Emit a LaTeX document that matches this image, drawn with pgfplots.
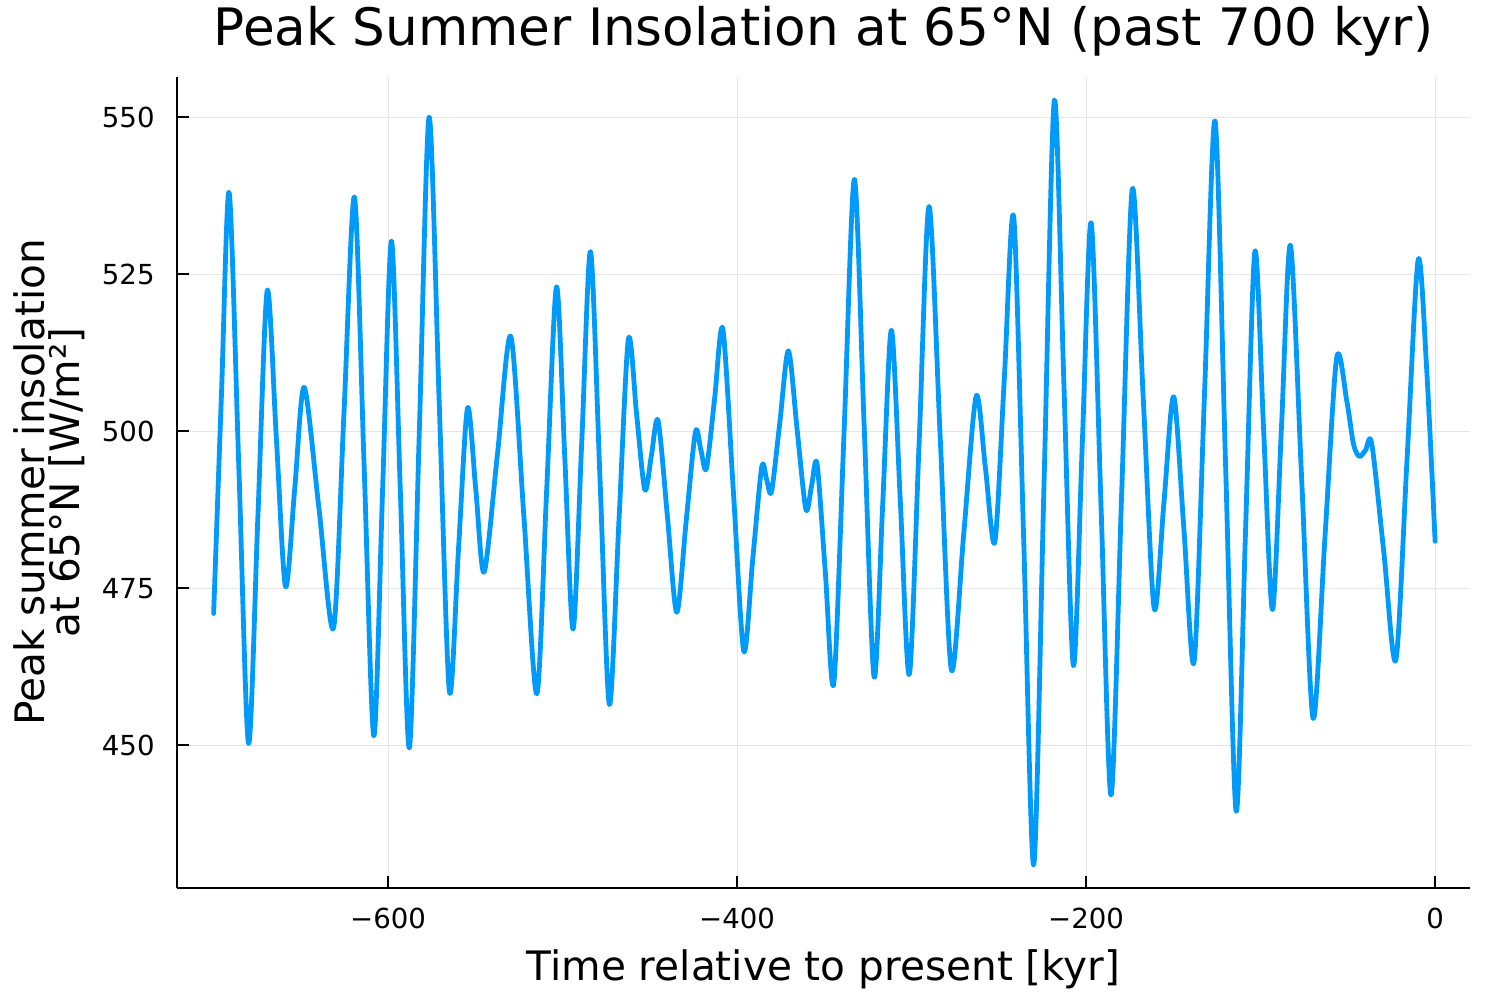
\documentclass[border=0pt]{standalone}
\usepackage{fontspec}
\setmainfont{DejaVu Sans}
\usepackage{pgfplots}
\pgfplotsset{compat=1.18}
\definecolor{plotblue}{RGB}{0,154,250}
\definecolor{gridgray}{RGB}{229,229,229}
\begin{document}
\begin{tikzpicture}
\path[use as bounding box] (-88.5pt,-56pt) rectangle (661.5pt,444pt);
\begin{axis}[
  scale only axis,
  width=646.5pt, height=405.5pt,
  xmin=-721, xmax=20, ymin=427.3, ymax=556.4,
  axis x line=bottom, axis y line=left,
  axis line style={-, line width=1pt, black},
  tick align=inside,
  major tick length=6pt,
  tick style={line width=1pt, black},
  xtick={-600,-400,-200,0},
  xticklabels={−600,−400,−200,0},
  ytick={450,475,500,525,550},
  yticklabels={450,475,500,525,550},
  xticklabel style={anchor=base, inner sep=0pt, yshift=-20.5pt, font=\fontsize{13.8}{16}\selectfont},
  yticklabel style={anchor=east, inner sep=0pt, xshift=-11pt, font=\fontsize{13.8}{16}\selectfont},
  grid=major,
  major grid style={line width=0.5pt, gridgray},
  title={Peak Summer Insolation at 65°N (past 700 kyr)},
  title style={at={(axis description cs:0.5,1)}, anchor=base, inner sep=0pt, yshift=9.7pt, font=\fontsize{25.8}{30}\selectfont},
  xlabel={Time relative to present [kyr]},
  xlabel style={at={(axis description cs:0.5,0)}, anchor=base, inner sep=0pt, yshift=-46.35pt, font=\fontsize{20.3}{24}\selectfont},
]
\addplot[plotblue, line width=2.4pt, smooth, no marks, line join=round, line cap=round] coordinates {
(-700,471.0) (-695.5,506.0) (-691.1,538.0) (-685.55,494.15) (-680.0,450.3)
(-674.65,486.35) (-669.3,522.4) (-664.05,498.85) (-658.8,475.3) (-653.45,491.15)
(-648.1,507.0) (-639.7,487.85) (-631.3,468.7) (-625.3,503.0) (-619.3,537.3)
(-613.75,494.4) (-608.2,451.5) (-603.15,490.9) (-598.1,530.3) (-592.95,489.95)
(-587.8,449.6) (-582.15,499.8) (-576.5,550.0) (-570.7,504.3) (-564.9,458.6)
(-559.7,481.15) (-554.5,503.7) (-549.75,490.65) (-545.0,477.6) (-537.35,496.35)
(-529.7,515.1) (-522.25,486.65) (-514.8,458.2) (-509.15,490.6) (-503.5,523.0)
(-498.75,495.75) (-494.0,468.5) (-489.0,498.55) (-484.0,528.6) (-478.6,492.55)
(-473.2,456.5) (-467.75,485.6) (-462.3,514.7) (-457.6,502.7) (-452.9,490.7)
(-449.1,496.2) (-445.3,501.7) (-439.95,486.45) (-434.6,471.2) (-429.25,485.55)
(-423.9,499.9) (-420.75,497.0) (-417.6,494.1) (-412.9,505.2) (-408.2,516.3)
(-402.2,490.65) (-396.2,465.0) (-391.05,479.65) (-385.9,494.3) (-383.1,492.35)
(-380.3,490.4) (-375.45,501.6) (-370.6,512.8) (-365.6,500.2) (-360.6,487.6)
(-357.4,491.2) (-354.2,494.8) (-349.4,477.35) (-344.6,459.9) (-338.7,500.0)
(-332.8,540.1) (-327.15,500.5) (-321.5,460.9) (-316.55,488.5) (-311.6,516.1)
(-306.45,488.7) (-301.3,461.3) (-295.65,498.55) (-290.0,535.8) (-283.6,498.9)
(-277.2,462.0) (-270.1,483.8) (-263.0,505.6) (-257.65,494.0) (-252.3,482.4)
(-246.9,508.25) (-241.5,534.1) (-235.75,482.55) (-230.0,431.0) (-224.1,491.85)
(-218.2,552.7) (-212.75,507.7) (-207.3,462.7) (-202.2,497.95) (-197.1,533.2)
(-191.4,487.65) (-185.7,442.1) (-179.6,490.35) (-173.5,538.6) (-167.25,505.2)
(-161.0,471.8) (-155.4,488.65) (-149.8,505.5) (-143.95,484.4) (-138.1,463.3)
(-132.1,506.35) (-126.1,549.4) (-120.05,494.45) (-114.0,439.5) (-108.65,484.05)
(-103.3,528.6) (-98.25,500.1) (-93.2,471.6) (-88.05,500.6) (-82.9,529.6)
(-76.4,491.95) (-69.9,454.3) (-63.15,483.0) (-56.4,511.7) (-50.6,504.8)
(-46.8,498.0) (-43.4,496.0) (-39.85,497.0) (-36.3,498.0) (-29.4,480.8)
(-22.5,463.6) (-16.1,495.45) (-9.7,527.3) (-4.85,510.0) (0,482.5)
};
\end{axis}
\node[rotate=90, anchor=base, inner sep=0pt, font=\fontsize{20.3}{24}\selectfont] at (-66pt,202.75pt) {Peak summer insolation};
\node[rotate=90, anchor=base, inner sep=0pt, font=\fontsize{20.3}{24}\selectfont] at (-48.5pt,202.75pt) {at 65°N [W/m²]};
\end{tikzpicture}
\end{document}
